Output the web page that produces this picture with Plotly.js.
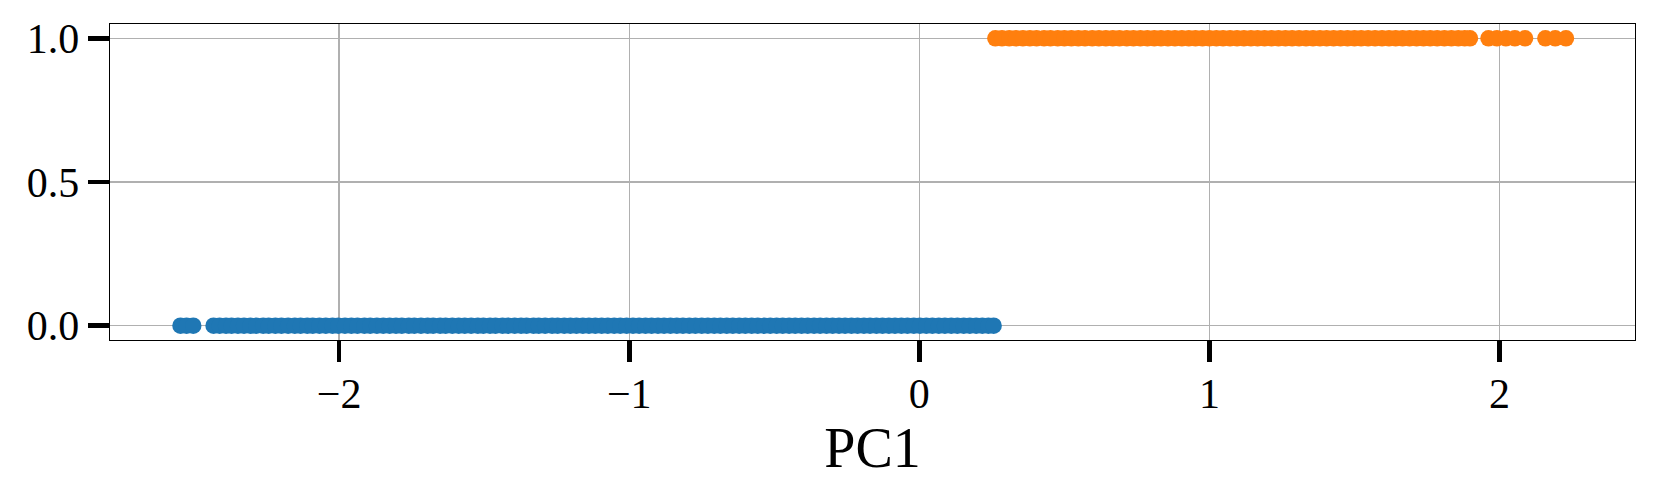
<!DOCTYPE html>
<html>
<head>
<meta charset="utf-8">
<script src="https://cdn.plot.ly/plotly-3.0.1.min.js"></script>
<style>
  body { margin: 0; background: #fff; }
  #chart { width: 1661px; height: 498px; }
</style>
</head>
<body>
<div id="chart"></div>
<script>
// PC1 scores, one array per class
var pc1Class0 = [-2.547, -2.526, -2.503,
  -2.433, -2.412, -2.39, -2.371, -2.349, -2.328, -2.306, -2.286, -2.262, -2.243, -2.22, -2.199,
  -2.176, -2.153, -2.133, -2.11, -2.091, -2.068, -2.046, -2.023, -2.003, -1.98, -1.958, -1.937,
  -1.913, -1.893, -1.87, -1.848, -1.826, -1.804, -1.784, -1.76, -1.741, -1.718, -1.695, -1.676,
  -1.652, -1.633, -1.61, -1.588, -1.567, -1.545, -1.522, -1.503, -1.48, -1.461, -1.437, -1.418,
  -1.395, -1.373, -1.354, -1.33, -1.312, -1.29, -1.266, -1.247, -1.224, -1.203, -1.182, -1.16,
  -1.139, -1.117, -1.095, -1.074, -1.052, -1.031, -1.009, -0.987, -0.966, -0.944, -0.923, -0.901,
  -0.88, -0.858, -0.836, -0.815, -0.793, -0.772, -0.75, -0.729, -0.707, -0.686, -0.664, -0.643,
  -0.621, -0.6, -0.578, -0.557, -0.535, -0.514, -0.492, -0.471, -0.449, -0.428, -0.406, -0.385,
  -0.363, -0.342, -0.32, -0.299, -0.277, -0.256, -0.234, -0.213, -0.191, -0.17, -0.148, -0.127,
  -0.105, -0.084, -0.062, -0.041, -0.019, 0.002, 0.024, 0.045, 0.067, 0.088, 0.11, 0.131,
  0.153, 0.174, 0.196, 0.217, 0.238, 0.256];

var pc1Class1 = [0.262, 0.285, 0.31, 0.333, 0.357, 0.381, 0.404, 0.43, 0.452, 0.477, 0.5,
  0.524, 0.548, 0.571, 0.596, 0.619, 0.643, 0.667, 0.69, 0.715, 0.738, 0.762, 0.786, 0.81,
  0.833, 0.857, 0.881, 0.905, 0.929, 0.952, 0.976, 1.0, 1.024, 1.047, 1.071, 1.095, 1.119,
  1.143, 1.166, 1.19, 1.214, 1.238, 1.262, 1.285, 1.309, 1.333, 1.357, 1.381, 1.404, 1.428,
  1.452, 1.476, 1.5, 1.523, 1.547, 1.571, 1.595, 1.619, 1.642, 1.666, 1.69, 1.714, 1.738,
  1.761, 1.785, 1.81, 1.834, 1.858, 1.88, 1.898,
  1.962, 1.991, 2.022, 2.053, 2.088,
  2.158, 2.192, 2.229];

var classLabels = [0, 1];
var classColors = ['#1f77b4', '#ff7f0e'];

var font = 'Liberation Serif, DejaVu Serif, serif';

var data = [pc1Class0, pc1Class1].map(function (xs, i) {
  return {
    x: xs,
    y: xs.map(function () { return classLabels[i]; }),
    type: 'scatter',
    mode: 'markers',
    marker: { color: classColors[i], size: 16.5, line: { width: 0 } },
    hoverinfo: 'x+y'
  };
});

var axisCommon = {
  showline: true,
  mirror: true,
  linecolor: '#000',
  linewidth: 1.3,
  showgrid: true,
  gridcolor: '#b0b0b0',
  gridwidth: 1.5,
  zeroline: false,
  ticks: 'outside',
  ticklen: 21,
  tickwidth: 4.5,
  tickcolor: '#000',
  tickfont: { family: font, size: 42, color: '#000' }
};

var layout = {
  width: 1661,
  height: 498,
  margin: { l: 110, r: 26, t: 24, b: 158 },
  paper_bgcolor: '#fff',
  plot_bgcolor: '#fff',
  showlegend: false,
  xaxis: Object.assign({}, axisCommon, {
    range: [-2.79, 2.467],
    tickvals: [-2, -1, 0, 1, 2],
    ticklabelstandoff: -5,
    title: { text: 'PC1', font: { family: font, size: 56, color: '#000' }, standoff: 2 }
  }),
  yaxis: Object.assign({}, axisCommon, {
    range: [-0.05, 1.05],
    tickvals: [0, 0.5, 1],
    tickformat: '.1f'
  })
};

Plotly.newPlot('chart', data, layout, { displayModeBar: false, staticPlot: true });
</script>
</body>
</html>
